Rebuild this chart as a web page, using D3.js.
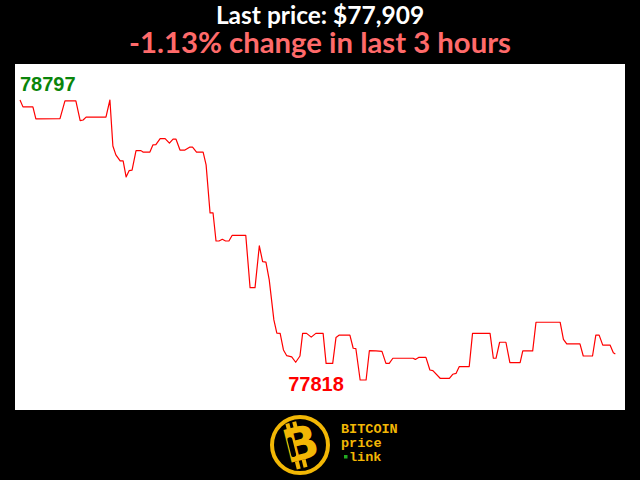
<!DOCTYPE html>
<html><head><meta charset="utf-8">
<script src="https://cdn.jsdelivr.net/npm/d3@7"></script>
<style>html,body{margin:0;padding:0;background:#000;}svg{display:block;}</style>
</head><body>
<script>
// minutes since start of the 3-hour window
const times = [0,0.9,3.9,4.8,12.1,13.6,16.9,18.2,19.1,20.0,26.0,27.2,28.1,29.0,30.3,31.2,32.1,33.0,33.9,35.1,
 36.6,37.2,39.3,40.2,41.1,42.4,43.9,45.2,46.3,47.2,48.4,49.9,51.3,52.2,53.4,55.4,56.3,57.5,58.4,59.3,
 60.2,61.2,62.2,63.2,64.2,68.3,69.6,71.1,72.4,73.4,74.4,75.4,76.8,77.7,78.7,79.7,80.7,82.2,83.4,84.7,
 85.5,86.7,88.1,89.5,91.7,92.6,94.6,95.6,96.6,99.8,100.8,101.6,102.9,104.7,105.7,107.7,109.5,110.7,111.7,112.8,
 118.9,119.6,120.6,122.8,124.0,124.9,127.1,129.9,130.9,131.9,132.9,135.9,136.9,142.2,143.2,144.0,145.1,147.0,148.2,151.3,
 152.1,155.1,156.1,163.4,164.4,165.4,169.4,170.4,173.2,174.2,175.2,176.3,178.5,179.5,180.1];
const prices = [78797,78773,78773,78731,78732,78794,78794,78725,78727,78737,78737,78797,78636,78605,78584,78584,78528,78550,78552,78620,
 78620,78615,78615,78640,78641,78662,78662,78646,78660,78660,78622,78622,78632,78632,78615,78615,78570,78402,78402,78304,
 78304,78310,78304,78304,78324,78324,78141,78141,78287,78232,78230,78168,78028,77982,77981,77923,77903,77899,77880,77902,
 77981,77981,77968,77981,77981,77876,77876,77967,77975,77975,77929,77928,77818,77818,77921,77920,77918,77876,77876,77894,
 77894,77890,77897,77897,77853,77851,77824,77824,77838,77841,77865,77865,77981,77981,77894,77894,77950,77950,77879,77879,
 77920,77920,78020,78020,77960,77944,77944,77902,77902,77975,77975,77940,77940,77913,77909];
const titleText = "Last price: $77,909";
const changeText = "-1.13% change in last 3 hours";
const logoWords = ["BITCOIN", "price", "link"];

const W = 640, H = 480;
const svg = d3.select("body").append("svg").attr("width", W).attr("height", H);
svg.append("rect").attr("width", W).attr("height", H).attr("fill", "#000");

// titles
svg.append("text").attr("x", 320).attr("y", 24).attr("text-anchor", "middle")
  .attr("font-family", "Lato, sans-serif").attr("font-weight", 700).attr("font-size", 24.5)
  .attr("fill", "#fff").text(titleText);
svg.append("text").attr("x", 320).attr("y", 53).attr("text-anchor", "middle")
  .attr("font-family", "Lato, sans-serif").attr("font-weight", 700).attr("font-size", 29.3)
  .attr("fill", "#ff6a6a").text(changeText);

// plot panel
svg.append("rect").attr("x", 15).attr("y", 64).attr("width", 610).attr("height", 346).attr("fill", "#fff");

const x = d3.scaleLinear().domain([0, 180]).range([20, 615]);
const yMin = d3.min(prices), yMax = d3.max(prices);
const y = d3.scaleLinear().domain([yMin, yMax]).range([380, 100]);

const data = times.map((t, i) => ({t, p: prices[i]}));
svg.append("path").datum(data)
  .attr("fill", "none").attr("stroke", "#ff0000").attr("stroke-width", 1.2)
  .attr("stroke-linejoin", "round")
  .attr("d", d3.line().x(d => x(d.t)).y(d => y(d.p)));

const maxPt = data[prices.indexOf(yMax)];
const minPt = data[prices.indexOf(yMin)];
svg.append("text").attr("x", x(maxPt.t) + 0).attr("y", y(maxPt.p) - 9)
  .attr("font-family", "Liberation Sans, Arial, sans-serif").attr("font-weight", 700).attr("font-size", 20)
  .attr("fill", "#0a850a").text(yMax);
svg.append("text").attr("x", x(minPt.t) - 72).attr("y", y(minPt.p) + 11)
  .attr("font-family", "Liberation Sans, Arial, sans-serif").attr("font-weight", 700).attr("font-size", 20)
  .attr("fill", "#ff0000").text(yMin);

// logo
const gold = "#f2b705";
const lg = svg.append("g").attr("transform", "translate(300,445)");
lg.append("circle").attr("r", 28).attr("fill", "#000").attr("stroke", gold).attr("stroke-width", 4);
const bg = lg.append("g").attr("transform", "rotate(-14)");
bg.append("text").attr("x", 1).attr("y", 15).attr("text-anchor", "middle")
  .attr("font-family", "DejaVu Sans, sans-serif").attr("font-weight", 900).attr("font-size", 46)
  .attr("fill", gold).text("B");
bg.append("rect").attr("x", -9).attr("y", -24).attr("width", 4).attr("height", 8).attr("fill", gold);
bg.append("rect").attr("x", -2).attr("y", -24).attr("width", 4).attr("height", 8).attr("fill", gold);
bg.append("rect").attr("x", -9).attr("y", 15).attr("width", 4).attr("height", 8).attr("fill", gold);
bg.append("rect").attr("x", -2).attr("y", 15).attr("width", 4).attr("height", 8).attr("fill", gold);
bg.append("rect").attr("x", -11).attr("y", -10).attr("width", 5).attr("height", 20).attr("rx", 2)
  .attr("fill", "#000");

const tx = svg.append("g").attr("font-family", "Liberation Mono, Courier New, monospace")
  .attr("font-weight", 700).attr("font-size", 13.5).attr("fill", gold);
tx.append("text").attr("x", 341).attr("y", 433).text(logoWords[0]);
tx.append("text").attr("x", 341).attr("y", 447).text(logoWords[1]);
tx.append("text").attr("x", 349).attr("y", 461).text(logoWords[2]);
svg.append("rect").attr("x", 344).attr("y", 455).attr("width", 3.5).attr("height", 3.5).attr("fill", "#22aa22");
</script>
</body></html>
